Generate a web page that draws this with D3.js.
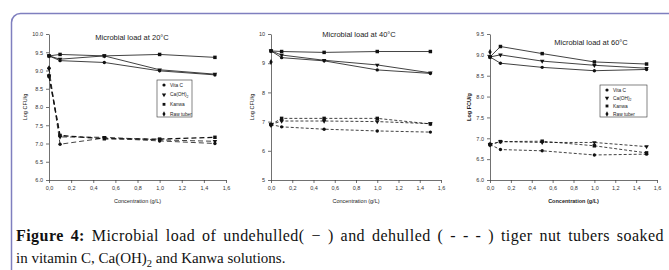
<!DOCTYPE html>
<meta charset="UTF-8">
<html>
<head>
<script src="https://d3js.org/d3.v7.min.js"></script>
<style>
  body { margin: 0; background: #fff; }
  svg text { font-family: "Liberation Sans", Arial, sans-serif; fill: #222; }
  .tick text { font-size: 5.5px; fill: #333; }
  .caption text { font-family: "Liberation Serif", "Times New Roman", serif; fill: #111; }
</style>
</head>
<body>
<svg id="fig" width="669" height="270"></svg>
<script>
// concentrations (g/L)
var conc = [0, 0.1, 0.5, 1.0, 1.5];
var xTicks = [0, 0.2, 0.4, 0.6, 0.8, 1.0, 1.2, 1.4, 1.6];

var titles = ["Microbial load at 20°C", "Microbial load at 40°C", "Microbial load at 60°C"];
var yLabels = ["Log CFU/g", "Log CFU/g", "Log FCU/g"];
var legendNames = ["Vita C", "Ca(OH)2", "Kanwa", "Raw tuber"];

// 20°C
var yTicks20 = [6.0, 6.5, 7.0, 7.5, 8.0, 8.5, 9.0, 9.5, 10.0];
var vitc20u = [9.40, 9.27, 9.22, 8.99, 8.88];
var caoh20u = [9.40, 9.31, 9.40, 9.02, 8.90];
var kanwa20u = [9.40, 9.44, 9.40, 9.44, 9.36];
var vitc20d = [9.06, 6.98, 7.15, 7.07, 7.00];
var caoh20d = [8.85, 7.18, 7.17, 7.10, 7.06];
var kanwa20d = [8.85, 7.22, 7.13, 7.12, 7.17];
var raw20 = [9.06, 8.85];

// 40°C
var yTicks40 = [5, 6, 7, 8, 9, 10];
var vitc40u = [9.42, 9.19, 9.08, 8.77, 8.65];
var caoh40u = [9.42, 9.28, 9.10, 8.94, 8.67];
var kanwa40u = [9.42, 9.40, 9.37, 9.40, 9.40];
var vitc40d = [6.90, 6.82, 6.74, 6.68, 6.64];
var caoh40d = [6.90, 7.02, 7.02, 7.00, 6.93];
var kanwa40d = [6.90, 7.11, 7.11, 7.11, 6.92];
var raw40 = [9.04, 6.88];

// 60°C
var yTicks60 = [6.0, 6.5, 7.0, 7.5, 8.0, 8.5, 9.0, 9.5];
var vitc60u = [8.95, 8.80, 8.70, 8.62, 8.65];
var caoh60u = [8.95, 9.00, 8.85, 8.75, 8.68];
var kanwa60u = [8.95, 9.20, 9.03, 8.83, 8.78];
var vitc60d = [6.85, 6.73, 6.70, 6.60, 6.62];
var caoh60d = [6.85, 6.92, 6.90, 6.90, 6.80];
var kanwa60d = [6.85, 6.92, 6.93, 6.82, 6.65];
var raw60 = [9.07, 6.85];

var svg = d3.select("#fig");

// frame round the figure
svg.append("rect")
   .attr("x", 11.5).attr("y", 13.5)
   .attr("width", 680).attr("height", 280)
   .attr("rx", 9)
   .attr("fill", "none")
   .attr("stroke", "#7f7fbf")
   .attr("stroke-width", 1.5);

var symbols = [d3.symbolCircle, d3.symbolTriangle, d3.symbolSquare, d3.symbolDiamond];

var panels = [
  {x0: 49, x1: 226, yTop: 34, yBot: 180, dom: [6, 10], ticks: yTicks20, fmt: d3.format(".1f"),
   series: [[vitc20u, caoh20u, kanwa20u], [vitc20d, caoh20d, kanwa20d]], raw: raw20,
   tx: 132, ty: 40, ylx: 27, dash: "5,3", bold: false, legend: {x: 157, y: 80, w: 35, h: 37}},
  {x0: 271, x1: 441, yTop: 34, yBot: 180, dom: [5, 10], ticks: yTicks40, fmt: d3.format("d"),
   series: [[vitc40u, caoh40u, kanwa40u], [vitc40d, caoh40d, kanwa40d]], raw: raw40,
   tx: 359, ty: 37, ylx: 254, dash: "3,2", bold: false, legend: null},
  {x0: 490, x1: 657, yTop: 34, yBot: 180, dom: [6, 9.5], ticks: yTicks60, fmt: d3.format(".1f"),
   series: [[vitc60u, caoh60u, kanwa60u], [vitc60d, caoh60d, kanwa60d]], raw: raw60,
   tx: 591, ty: 45, ylx: 471, dash: "3,2", bold: true, legend: {x: 600, y: 85, w: 47, h: 32}}
];

var commaFmt = function(v){ return d3.format(".1f")(v).replace(".", ","); };

panels.forEach(function(p, i)
{
  var x = d3.scaleLinear().domain([0, 1.6]).range([p.x0, p.x1]);
  var y = d3.scaleLinear().domain(p.dom).range([p.yBot, p.yTop]);
  var g = svg.append("g");

  g.append("g")
   .attr("transform", "translate(0," + p.yBot + ")")
   .call(d3.axisBottom(x).tickValues(xTicks).tickFormat(commaFmt).tickSize(3).tickSizeOuter(0))
   .call(function(a){ a.selectAll("line,path").attr("stroke", "#333").attr("stroke-width", 0.7); });

  g.append("g")
   .attr("transform", "translate(" + p.x0 + ",0)")
   .call(d3.axisLeft(y).tickValues(p.ticks).tickFormat(p.fmt).tickSize(3).tickSizeOuter(0))
   .call(function(a){ a.selectAll("line,path").attr("stroke", "#333").attr("stroke-width", 0.7); });

  var line = d3.line().x(function(d, k){ return x(conc[k]); }).y(function(d){ return y(d); });

  p.series.forEach(function(group, gi)
  {
    group.forEach(function(vals, si)
    {
      g.append("path")
       .datum(vals)
       .attr("d", line)
       .attr("fill", "none")
       .attr("stroke", "#111")
       .attr("stroke-width", gi === 1 && si === 2 && i === 0 ? 1.3 : 0.8)
       .attr("stroke-dasharray", gi === 1 ? p.dash : null);

      g.selectAll(null)
       .data(vals)
       .enter()
       .append("path")
       .attr("d", d3.symbol().type(symbols[si]).size(si === 2 ? 12 : 9))
       .attr("transform", function(d, k)
       {
         var r = si === 1 ? " rotate(180)" : "";
         return "translate(" + x(conc[k]) + "," + y(d) + ")" + r;
       })
       .attr("fill", "#111");
    });
  });

  g.selectAll(null)
   .data(p.raw)
   .enter()
   .append("path")
   .attr("d", d3.symbol().type(d3.symbolDiamond).size(10))
   .attr("transform", function(d){ return "translate(" + x(0) + "," + y(d) + ")"; })
   .attr("fill", "#111");

  g.append("text")
   .attr("x", p.tx).attr("y", p.ty)
   .attr("text-anchor", "middle")
   .style("font-size", "7.5px")
   .text(titles[i]);

  g.append("text")
   .attr("x", (p.x0 + p.x1) / 2).attr("y", 203)
   .attr("text-anchor", "middle")
   .style("font-size", "5.5px")
   .style("font-weight", p.bold ? "bold" : "normal")
   .text("Concentration (g/L)");

  g.append("text")
   .attr("transform", "translate(" + p.ylx + "," + ((p.yTop + p.yBot) / 2) + ") rotate(-90)")
   .attr("text-anchor", "middle")
   .style("font-size", "5.5px")
   .style("font-weight", p.bold ? "bold" : "normal")
   .text(yLabels[i]);

  if (p.legend)
  {
    var L = p.legend;
    var lg = g.append("g").attr("transform", "translate(" + L.x + "," + L.y + ")");
    lg.append("rect")
      .attr("width", L.w).attr("height", L.h)
      .attr("fill", "#fff").attr("stroke", "#333").attr("stroke-width", 0.6);
    var step = (L.h - 8) / 3;
    legendNames.forEach(function(name, k)
    {
      lg.append("path")
        .attr("d", d3.symbol().type(symbols[k]).size(8))
        .attr("transform", "translate(7," + (4 + k * step + 1) + ")" + (k === 1 ? " rotate(180)" : ""))
        .attr("fill", "#111");
      var t = lg.append("text")
        .attr("x", 13).attr("y", 4 + k * step + 2.8)
        .style("font-size", "4.8px");
      if (name === "Ca(OH)2")
      {
        t.append("tspan").text("Ca(OH)");
        t.append("tspan").attr("dy", 1.2).style("font-size", "3.5px").text("2");
      }
      else t.text(name);
    });
  }
});

// caption; first line justified by widening the word gaps
var cap = svg.append("g").attr("class", "caption");
var c1 = cap.append("text").attr("x", 16).attr("y", 241)
            .style("font-size", "16px").style("letter-spacing", "0.45px");
c1.append("tspan").style("font-weight", "bold").text("Figure 4:");
c1.append("tspan").text(" Microbial load of undehulled( \u2212 ) and dehulled ( - - - ) tiger nut tubers soaked");
var natural = c1.node().getComputedTextLength();
var gaps = c1.text().split(" ").length - 1;
c1.style("word-spacing", Math.max(0, (648 - natural) / gaps) + "px");

var c2 = cap.append("text").attr("x", 16).attr("y", 263).style("font-size", "15px");
c2.append("tspan").text("in vitamin C, Ca(OH)");
c2.append("tspan").attr("dy", 4).style("font-size", "10.5px").text("2");
c2.append("tspan").attr("dy", -4).text(" and Kanwa solutions.");
</script>
</body>
</html>
